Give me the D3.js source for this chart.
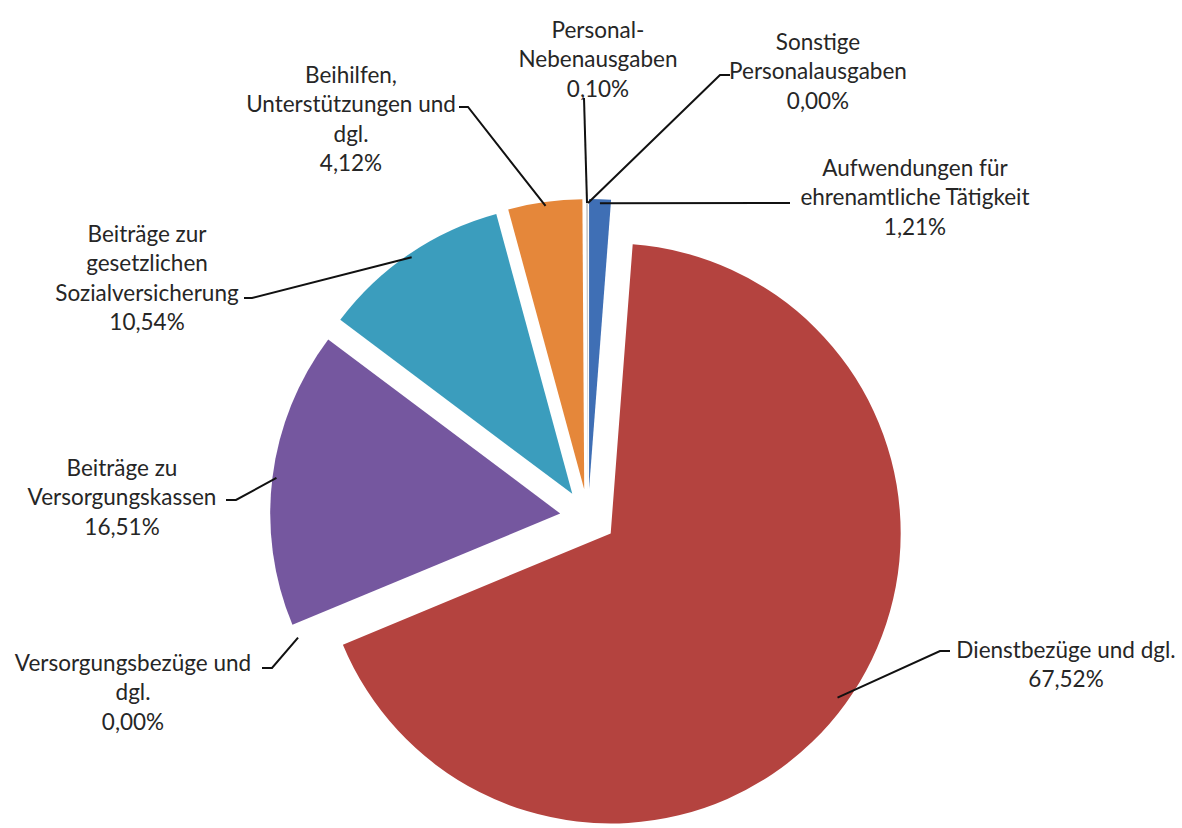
<!DOCTYPE html>
<html><head><meta charset="utf-8">
<script src="https://cdn.jsdelivr.net/npm/d3@7"></script>
<style>body{margin:0;background:#fff}svg{display:block}</style>
</head><body>
<svg id="chart" width="1182" height="828"></svg>
<script>
// ---- data ----
const categories = [
  "Aufwendungen für ehrenamtliche Tätigkeit",
  "Dienstbezüge und dgl.",
  "Versorgungsbezüge und dgl.",
  "Beiträge zu Versorgungskassen",
  "Beiträge zur gesetzlichen Sozialversicherung",
  "Beihilfen, Unterstützungen und dgl.",
  "Personal-Nebenausgaben",
  "Sonstige Personalausgaben"
];
const values = [1.21, 67.52, 0.00, 16.51, 10.54, 4.12, 0.10, 0.00];
const percentLabels = ["1,21%", "67,52%", "0,00%", "16,51%", "10,54%", "4,12%", "0,10%", "0,00%"];
const labelLines = [
  ["Aufwendungen für", "ehrenamtliche Tätigkeit"],
  ["Dienstbezüge und dgl."],
  ["Versorgungsbezüge und", "dgl."],
  ["Beiträge zu", "Versorgungskassen"],
  ["Beiträge zur", "gesetzlichen", "Sozialversicherung"],
  ["Beihilfen,", "Unterstützungen und", "dgl."],
  ["Personal-", "Nebenausgaben"],
  ["Sonstige", "Personalausgaben"]
];
const colors = ["#3F6FB5", "#B4433F", "#9BBB59", "#75579F", "#3B9DBD", "#E5873A", "#C9C9C9", "#8BA7D3"];

// ---- layout ----
const cx = 588, cy = 517, R = 290, explode = 28;
// label block: center x, first line center y
const labelPos = [[915,168],[1066,650],[133,663],[122,468],[147,234],[351,75],[598,30],[818,42]];
// leader elbow point and end of the short hook
const leaderElbow = [[790,203],[940,651],[272,668],[236,500],[252,298],[468,107],[584,98],[720,75]];
const leaderEnd   = [[790,203],[950,651],[262,668],[226,500],[244,298],[459,107],[584,98],[730,75]];
const leaderStartInset = [4, 10, 4, 4, 4, 4, 4, 4];
const lineH = 29.5;

const svg = d3.select("#chart");
const pie = d3.pie().sort(null).value(d => d)(values);
const arc = d3.arc().innerRadius(0).outerRadius(R);

const g = svg.append("g");
pie.forEach((p, i) => {
  const mid = (p.startAngle + p.endAngle) / 2;
  const dx = Math.sin(mid) * explode, dy = -Math.cos(mid) * explode;
  if (p.endAngle - p.startAngle > 0.0001) {
    g.append("path")
      .attr("d", arc(p))
      .attr("transform", `translate(${cx+dx},${cy+dy})`)
      .attr("fill", colors[i]);
  }
  // leader line
  const sx = cx + dx + Math.sin(mid) * (R - leaderStartInset[i]);
  const sy = cy + dy - Math.cos(mid) * (R - leaderStartInset[i]);
  const pts = [[sx, sy], leaderElbow[i], leaderEnd[i]];
  g.append("path")
    .attr("d", d3.line()(pts))
    .attr("fill", "none")
    .attr("stroke", "#111")
    .attr("stroke-width", 2);
  // label
  const lines = labelLines[i].concat([percentLabels[i]]);
  const t = g.append("text")
    .attr("font-family", "Lato, 'Open Sans', sans-serif")
    .attr("font-size", 22.5)
    .attr("fill", "#262626")
    .attr("text-anchor", "middle");
  lines.forEach((ln, k) => {
    t.append("tspan")
      .attr("x", labelPos[i][0])
      .attr("y", labelPos[i][1] + k * lineH)
      .attr("dy", "0.35em")
      .text(ln);
  });
});
</script>
</body></html>
